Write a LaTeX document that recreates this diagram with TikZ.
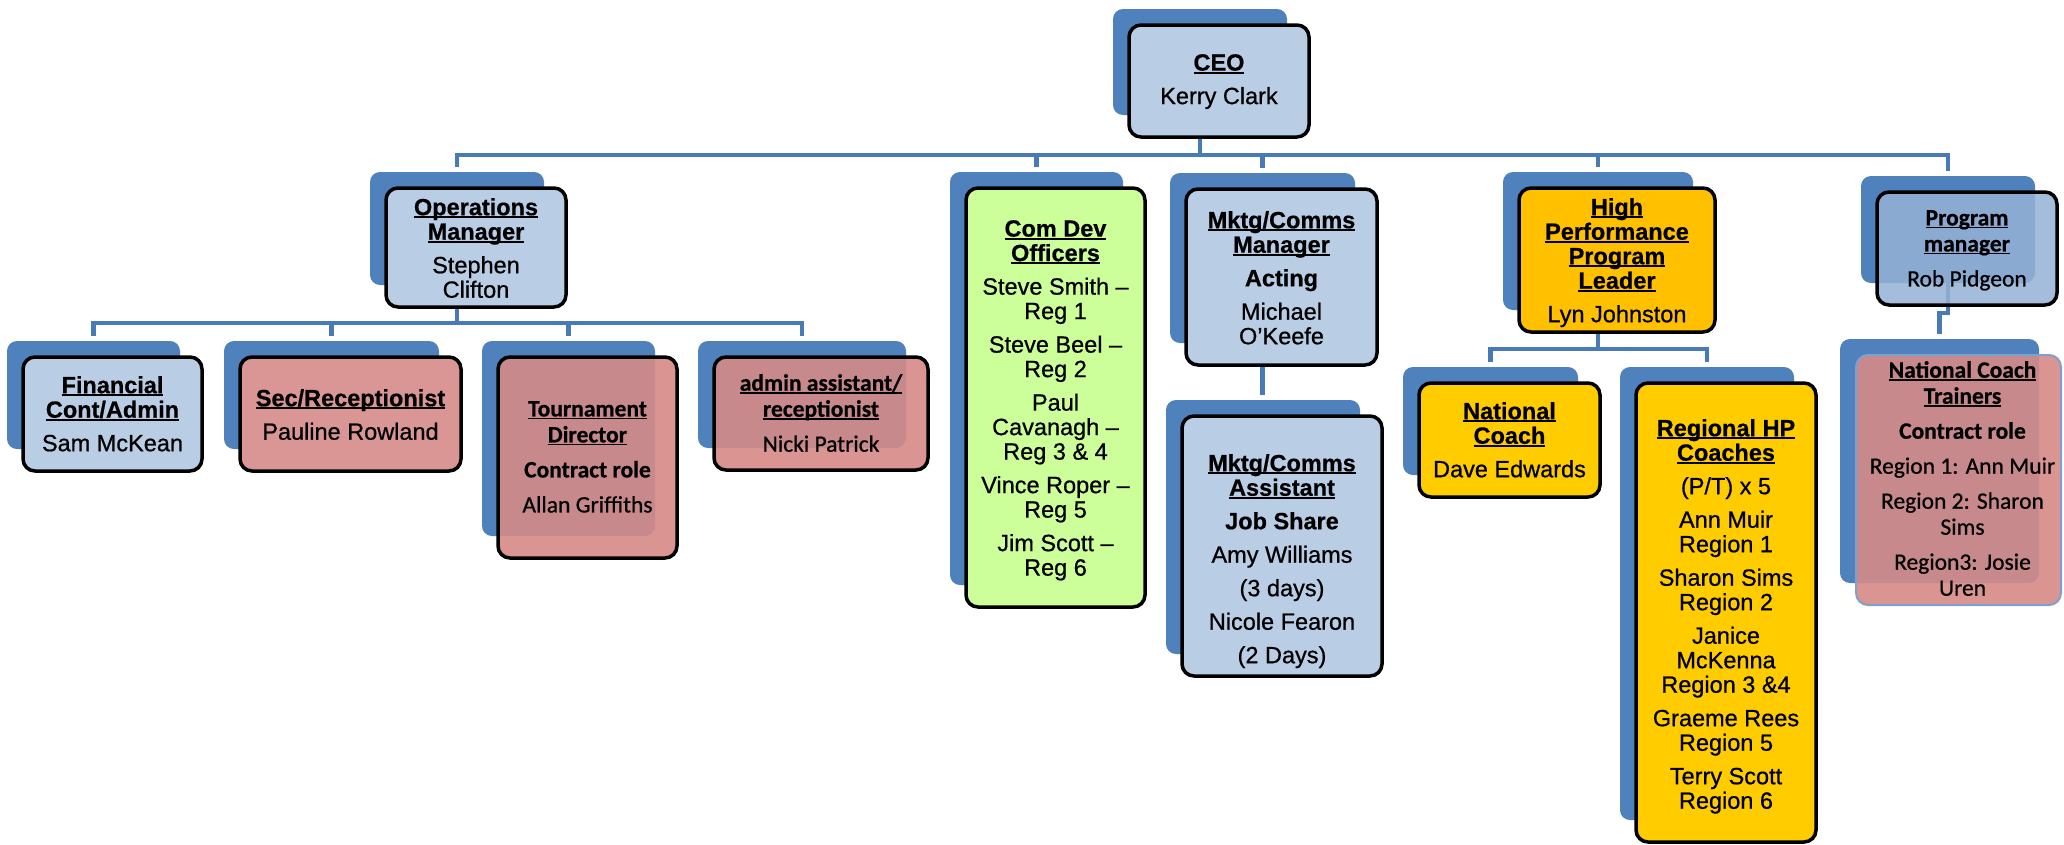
\documentclass[tikz,border=0pt]{standalone}
\usepackage{fontspec}
\setmainfont{Liberation Sans}[UprightFeatures={FakeBold=0.7}, BoldFeatures={FakeBold=0.6}]
\newfontfamily\calfont{Carlito}[UprightFeatures={FakeBold=0.7}, BoldFeatures={FakeBold=0.6}]
\usetikzlibrary{fit,backgrounds}

\definecolor{backblue}{RGB}{79,129,189}
\definecolor{paleblue}{RGB}{185,205,229}
\definecolor{rose}{RGB}{217,150,148}
\definecolor{rosetr}{RGB}{214,138,136}
\definecolor{lime}{RGB}{204,255,153}
\definecolor{amber}{RGB}{255,192,0}
\definecolor{goldfill}{RGB}{255,204,0}
\definecolor{pmblue}{RGB}{150,178,214}
\definecolor{linkblue}{RGB}{72,122,182}
\definecolor{edgeblue}{RGB}{125,160,205}

% bold underlined heading line, rule at a fixed depth under the baseline
\newcommand\ttl[1]{\leavevmode\setbox0\hbox{\bfseries #1}\rlap{\rule[-3pt]{\wd0}{1.8pt}}\box0}

\tikzset{
  backbox/.style={fill=backblue, rounded corners=10pt, inner sep=0pt},
  frontbox/.style={draw=black, line width=3.5pt, rounded corners=12pt, inner sep=0pt},
  boxtext/.style={anchor=north, inner sep=0pt, align=center,
    font=\fontsize{23.5}{24.5}\selectfont},
  calibri/.style={font=\calfont\fontsize{23.5}{26}\selectfont},
  conn/.style={draw=linkblue, line width=4.5pt, shorten >=5pt},
}

% #1 name, #2-#5 front corners (x1,y1,x2,y2), #6 box style,
% #7 text style, #8 top of the text, #9 text
\newcommand\orgbox[9]{%
  \node[backbox, fit={(#2-16,#3-16) (#4-22,#5-22)}] (#1b) {};
  \node[frontbox, #6, fit={(#2,#3) (#4,#5)}] (#1) {};
  \node[boxtext, #7] (#1t) at ({(#2+#4)/2}, #8) {#9};
}

\begin{document}
\begin{tikzpicture}[x=1pt, y=-1pt]
\useasboundingbox (0,0) rectangle (2064,844);

% top level
\orgbox{ceo}{1129}{25}{1309}{137}{fill=paleblue}{}{54}{\ttl{CEO}\\[9pt]Kerry Clark}

% second level
\orgbox{ops}{386}{188}{566}{307}{fill=paleblue}{}{198}
  {\ttl{Operations}\\\ttl{Manager}\\[9pt]Stephen\\Clifton}
\orgbox{cdo}{966}{188}{1145}{607}{fill=lime}{}{220}
  {\ttl{Com Dev}\\\ttl{Officers}\\[9pt]Steve Smith –\\Reg 1\\[9pt]Steve Beel –\\Reg 2\\[9pt]Paul\\Cavanagh –\\Reg 3 \& 4\\[9pt]Vince Roper –\\Reg 5\\[9pt]Jim Scott –\\Reg 6}
\orgbox{mm}{1186}{189}{1377}{365}{fill=paleblue}{}{211}
  {\ttl{Mktg/Comms}\\\ttl{Manager}\\[9pt]\textbf{Acting}\\[9pt]Michael\\O’Keefe}
\orgbox{hp}{1519}{188}{1715}{332}{fill=amber}{}{198}
  {\ttl{High}\\\ttl{Performance}\\\ttl{Program}\\\ttl{Leader}\\[9pt]Lyn Johnston}
\orgbox{pm}{1877}{192}{2057}{305}{fill=pmblue, fill opacity=0.85}{calibri}{210}
  {\ttl{Program}\\\ttl{manager}\\[9pt]Rob Pidgeon}

% operations staff
\orgbox{fin}{23}{357}{202}{471}{fill=paleblue}{}{376}
  {\ttl{Financial}\\\ttl{Cont/Admin}\\[9pt]Sam McKean}
\orgbox{sec}{240}{357}{461}{471}{fill=rose}{}{389}
  {\ttl{Sec/Receptionist}\\[9pt]Pauline Rowland}
\orgbox{td}{498}{357}{677}{558}{fill=rosetr, fill opacity=0.9}{calibri}{401}
  {\ttl{Tournament}\\\ttl{Director}\\[9pt]\textbf{Contract role}\\[9pt]Allan Griffiths}
\orgbox{adm}{714}{357}{928}{470}{fill=rosetr, fill opacity=0.9}{calibri}{374}
  {\ttl{admin assistant/}\\\ttl{receptionist}\\[9pt]Nicki Patrick}

% marketing assistant
\orgbox{ma}{1182}{416}{1382}{676}{fill=paleblue}{}{454}
  {\ttl{Mktg/Comms}\\\ttl{Assistant}\\[9pt]\textbf{Job Share}\\[9pt]Amy Williams\\[9pt](3 days)\\[9pt]Nicole Fearon\\[9pt](2 Days)}

% high performance coaches
\orgbox{nc}{1419}{383}{1600}{497}{fill=goldfill}{}{402}
  {\ttl{National}\\\ttl{Coach}\\[9pt]Dave Edwards}
\orgbox{rc}{1636}{383}{1816}{842}{fill=goldfill}{}{419}
  {\ttl{Regional HP}\\\ttl{Coaches}\\[9pt](P/T) x 5\\[9pt]Ann Muir\\Region 1\\[9pt]Sharon Sims\\Region 2\\[9pt]Janice\\McKenna\\Region 3 \&4\\[9pt]Graeme Rees\\Region 5\\[9pt]Terry Scott\\Region 6}

% coach trainers
\orgbox{nct}{1856}{355}{2061}{605}{draw=edgeblue, line width=2pt, fill=rosetr, fill opacity=0.9}{calibri, xshift=4pt}{361}
  {\ttl{National Coach}\\\ttl{Trainers}\\[9pt]\textbf{Contract role}\\[9pt]Region 1: Ann Muir\\[9pt]Region 2: Sharon\\Sims\\[9pt]Region3: Josie\\Uren}

% page background and reporting lines, behind the boxes
\begin{scope}[on background layer]
  \fill[white] (0,0) rectangle (2064,844);
  \foreach \c in {opsb, cdob, mmb, hpb, pmb}
    \draw[conn] (ceo.south -| ceob.south) -- ++(0,16) -| (\c.north);
  \foreach \c in {finb, secb, tdb, admb}
    \draw[conn] (ops.south -| opsb.south) -- ++(0,14) -| (\c.north);
  \foreach \c in {ncb, rcb}
    \draw[conn] (hp.south -| hpb.south) -- ++(0,15) -| (\c.north);
  \draw[conn] (mm.south -| mmb.south) -- (mab.north -| mmb.south);
  \draw[conn] (pmb.south) -- ++(0,30) -| (nctb.north);
\end{scope}
\end{tikzpicture}
\end{document}
